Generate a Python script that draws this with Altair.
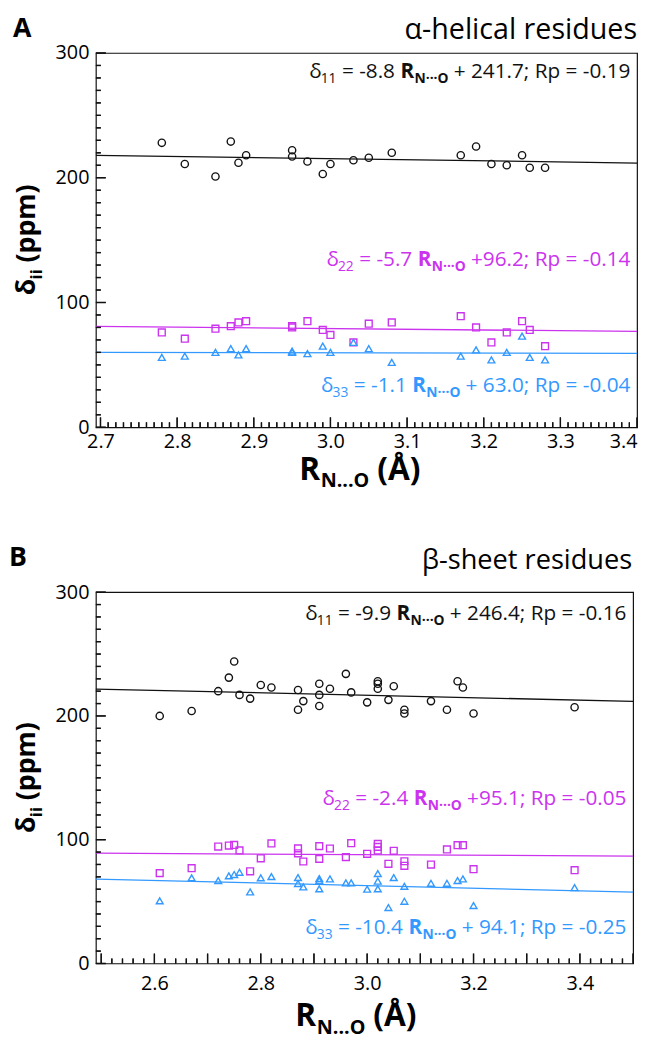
import altair as alt
import pandas as pd

# ---------------- data: panel A (alpha-helical residues) ----------------
a_r = [2.78, 2.81, 2.85, 2.87, 2.88, 2.89, 2.95, 2.95, 2.97, 2.99, 3.00,
       3.03, 3.05, 3.08, 3.17, 3.19, 3.21, 3.23, 3.25, 3.26, 3.28]
a_d11 = [228, 211, 201, 229, 212, 218, 222, 217, 213, 203, 211,
         214, 216, 220, 218, 225, 211, 210, 218, 208, 208]
a_d22 = [76, 71, 79, 81, 84, 85, 81, 80, 85, 78, 74,
         68, 83, 84, 89, 80, 68, 76, 85, 78, 65]
a_d33 = [56, 57, 60, 63, 58, 63, 61, 60, 59, 65, 60,
         68, 63, 52, 57, 62, 54, 60, 73, 56, 54]
a_slope = [-8.8, -5.7, -1.1]
a_icpt = [241.7, 96.2, 63.0]
a_coef = ["= -8.8", "= -5.7", "= -1.1"]
a_tail = ["+ 241.7; Rp = -0.19", "+96.2; Rp = -0.14", "+ 63.0; Rp = -0.04"]

# ---------------- data: panel B (beta-sheet residues) ----------------
b_r11 = [2.61, 2.67, 2.72, 2.74, 2.75, 2.76, 2.78, 2.80, 2.82, 2.87, 2.87,
         2.88, 2.91, 2.91, 2.91, 2.93, 2.96, 2.97, 3.00, 3.02, 3.02, 3.02,
         3.04, 3.05, 3.07, 3.07, 3.12, 3.15, 3.17, 3.18, 3.20, 3.39]
b_d11 = [200, 204, 220, 231, 244, 217, 214, 225, 223, 221, 205,
         212, 226, 217, 208, 222, 234, 219, 211, 228, 226, 222,
         213, 224, 205, 202, 212, 205, 228, 223, 202, 207]
b_r22 = [2.61, 2.67, 2.72, 2.74, 2.75, 2.76, 2.78, 2.80, 2.82, 2.87, 2.87,
         2.88, 2.91, 2.91, 2.93, 2.96, 2.97, 3.00, 3.02, 3.02, 3.02, 3.04,
         3.05, 3.07, 3.07, 3.12, 3.15, 3.17, 3.18, 3.20, 3.39]
b_d22 = [73, 77, 94.5, 95.3, 95.8, 91.3, 74.5, 85, 97, 93, 89,
         82.4, 94.8, 84.5, 92.9, 86, 97.2, 88.6, 96.6, 94.2, 91.3, 80.5,
         91, 82.6, 78.9, 79.9, 92.1, 95.6, 95.6, 76.2, 75.4]
b_r33 = [2.61, 2.67, 2.72, 2.74, 2.75, 2.76, 2.78, 2.80, 2.82, 2.87, 2.87,
         2.88, 2.91, 2.91, 2.91, 2.93, 2.96, 2.97, 3.00, 3.02, 3.02, 3.02,
         3.04, 3.05, 3.07, 3.07, 3.12, 3.15, 3.17, 3.18, 3.20, 3.39]
b_d33 = [50.6, 69.2, 67.0, 70.8, 71.9, 73.7, 57.8, 69.2, 70.2, 69.4, 64.6,
         61.9, 68.6, 67.0, 60.3, 68.3, 65.1, 65.1, 60.0, 72.7, 66.5, 60.3,
         45.2, 69.4, 62.4, 50.3, 64.8, 64.8, 67.0, 68.3, 46.8, 61.3]
b_slope = [-9.9, -2.4, -10.4]
b_icpt = [246.4, 95.1, 94.1]
b_coef = ["= -9.9", "= -2.4", "= -10.4"]
b_tail = ["+ 246.4; Rp = -0.16", "+95.1; Rp = -0.05", "+ 94.1; Rp = -0.25"]

subs = ["11", "22", "33"]
y_labels = [0, 100, 200, 300]
a_xlabels = [2.7, 2.8, 2.9, 3.0, 3.1, 3.2, 3.3, 3.4]
b_xlabels = [2.6, 2.8, 3.0, 3.2, 3.4]

# tick positions (inward ticks on bottom and left edges)
y_major = [0, 100, 200, 300]
y_minor = [v for v in range(10, 300, 10) if v % 100 != 0]
a_x_major = [round(2.7 + 0.1 * i, 2) for i in range(8)]
a_x_minor = [round(2.70 + 0.01 * i, 2) for i in range(71) if i % 10 != 0]
b_x_major = [round(2.5 + 0.1 * i, 2) for i in range(11)]
b_x_minor = [round(2.50 + 0.02 * i, 2) for i in range(51) if i % 5 != 0]

# ---------------- styles ----------------
FONT = "Open Sans"
COLORS = ["#111111", "#cc33ee", "#3399ff"]
SHAPES = ["circle", "square", "triangle-up"]
SIZES = [54, 48, 48]
FRAME = "#111111"

REG = {' ': 0.26, '.': 0.266, ';': 0.266, '-': 0.322, '+': 0.572, '=': 0.572,
       'R': 0.632, 'p': 0.613, 'δ': 0.557, 'N': 0.742, 'O': 0.778, '·': 0.266}
BOLD = {' ': 0.26, '.': 0.286, '-': 0.322, 'R': 0.677, 'N': 0.778, 'O': 0.813,
        '·': 0.286, 'δ': 0.596, 'i': 0.299, 'p': 0.635, 'm': 0.962,
        '(': 0.339, ')': 0.339, 'Å': 0.734}


def tw(s, size, bold=False):
    t = BOLD if bold else REG
    return sum(t.get(c, 0.572) for c in s) * size


def eq_rows(sub, coef, tail, xr, yb, color):
    S, s, sh = 21, 14, 5
    sp = REG[' '] * S
    parts = [("δ", S, False, 0, 0), (sub, s, False, sh, 0),
             (coef, S, False, 0, sp), ("R", S, True, 0, sp),
             ("N···O", s, True, sh, 0), (tail, S, False, 0, sp)]
    total = sum(g + tw(t, z, b) for t, z, b, d, g in parts)
    x = xr - total
    rows = []
    for t, z, b, d, g in parts:
        x += g
        rows.append(dict(x=x, y=yb + d, text=t, size=z, bold=b, color=color))
        x += tw(t, z, b)
    return rows


def xtitle_rows(cx, yb):
    S, s, sh = 32, 20, 8
    parts = [("R", S, 0, 0), ("N...O", s, sh, 0), ("(Å)", S, 0, BOLD[' '] * S)]
    total = sum(g + tw(t, z, True) for t, z, d, g in parts)
    x = cx - total / 2
    rows = []
    for t, z, d, g in parts:
        x += g
        rows.append(dict(x=x, y=yb + d, text=t, size=z, color="#000000"))
        x += tw(t, z, True)
    return rows


def ytitle_rows(cy, xb):
    S, s, sh = 27, 17, 7
    parts = [("δ", S, 0, 0), ("ii", s, sh, 0), ("(ppm)", S, 0, BOLD[' '] * S)]
    total = sum(g + tw(t, z, True) for t, z, d, g in parts)
    y = cy + total / 2
    rows = []
    for t, z, d, g in parts:
        y -= g
        rows.append(dict(x=xb + d, y=y, text=t, size=z, color="#000000"))
        y -= tw(t, z, True)
    return rows


def panel(rs, ds, slopes, icpts, coefs, tails, xdom, xlabels, xmaj, xmin,
          W, H, letter, letter_x, letter_base, title, title_size, title_x, title_base,
          eq_base, xt_cx, xt_base, yt_x, flush, lab_pad):
    scx = alt.Scale(domain=xdom, nice=False, zero=False)
    scy = alt.Scale(domain=[0, 300], nice=False, zero=False)
    ux = (xdom[1] - xdom[0]) / W      # data units per pixel (x)
    uy = 300.0 / H                    # data units per pixel (y)

    # one axis definition per channel, shared by every layer (so they merge cleanly)
    xkw = dict(values=xlabels, format=".1f", ticks=False, domain=False,
               grid=False, labelPadding=lab_pad, title=None)
    if flush:
        xkw.update(labelFlush=1, labelFlushOffset=0)
    XAX = alt.Axis(**xkw)
    YAX = alt.Axis(values=y_labels, ticks=False, domain=False, grid=False,
                   labelPadding=7, title=None)

    def X(field):
        return alt.X(field, scale=scx, axis=XAX)

    def Y(field):
        return alt.Y(field, scale=scy, axis=YAX)

    def to_data(rows):
        # annotation offsets given in pixels from the plot's top-left corner
        out = []
        for r in rows:
            r = dict(r)
            r["x"] = xdom[0] + r["x"] * ux
            r["y"] = 300.0 - r["y"] * uy
            out.append(r)
        return out

    def text_layer(rows, bold, angle=0, align="left"):
        df = pd.DataFrame(to_data(rows))
        return alt.Chart(df).mark_text(
            align=align, baseline="alphabetic", font=FONT,
            fontWeight="bold" if bold else "normal", angle=angle
        ).encode(
            x=X("x:Q"), y=Y("y:Q"),
            text="text:N",
            size=alt.Size("size:Q", scale=None, legend=None),
            color=alt.Color("color:N", scale=None, legend=None),
        )

    layers = []
    # fitted lines
    for k in range(3):
        ld = pd.DataFrame({"r": list(xdom),
                           "d": [slopes[k] * v + icpts[k] for v in xdom]})
        layers.append(alt.Chart(ld).mark_line(color=COLORS[k], strokeWidth=1.3).encode(
            x=X("r:Q"), y=Y("d:Q")))
    # points
    for k in range(3):
        pdf = pd.DataFrame({"r": rs[k], "d": ds[k]})
        layers.append(alt.Chart(pdf).mark_point(
            shape=SHAPES[k], filled=False, color=COLORS[k], size=SIZES[k],
            strokeWidth=1.4, opacity=1).encode(x=X("r:Q"), y=Y("d:Q")))
    # inward ticks: short rule segments plus the same ticks as line-shaped symbols
    for vals, L in ((xmaj, 10), (xmin, 5)):
        tdf = pd.DataFrame({"r": vals, "d": [0.0] * len(vals),
                            "d2": [L * uy] * len(vals)})
        layers.append(alt.Chart(tdf).mark_rule(color=FRAME, strokeWidth=1.3).encode(
            x=X("r:Q"), y=Y("d:Q"), y2="d2:Q"))
        layers.append(alt.Chart(tdf).mark_point(
            shape="M0,0L0,-2", size=L * L, filled=False, color=FRAME,
            strokeWidth=1.3, opacity=1).encode(x=X("r:Q"), y=Y("d:Q")))
    for vals, L in ((y_major, 10), (y_minor, 5)):
        tdf = pd.DataFrame({"d": vals, "r": [xdom[0]] * len(vals),
                            "r2": [xdom[0] + L * ux] * len(vals)})
        layers.append(alt.Chart(tdf).mark_rule(color=FRAME, strokeWidth=1.3).encode(
            y=Y("d:Q"), x=X("r:Q"), x2="r2:Q"))
        layers.append(alt.Chart(tdf).mark_point(
            shape="M0,0L2,0", size=L * L, filled=False, color=FRAME,
            strokeWidth=1.3, opacity=1).encode(x=X("r:Q"), y=Y("d:Q")))
    # annotations
    normal_rows, bold_rows = [], []
    for k in range(3):
        for row in eq_rows(subs[k], coefs[k], tails[k], W - 6, eq_base[k], COLORS[k]):
            (bold_rows if row.pop("bold") else normal_rows).append(row)
    bold_rows += xtitle_rows(xt_cx, H + xt_base)
    bold_rows.append(dict(x=letter_x, y=letter_base, text=letter, size=27, color="#000000"))
    layers.append(text_layer(normal_rows, False))
    layers.append(text_layer(bold_rows, True))
    layers.append(text_layer(ytitle_rows(H / 2, yt_x), True, angle=270))
    layers.append(text_layer([dict(x=title_x, y=title_base, text=title, size=title_size,
                                   color="#000000")], False, align="right"))
    return alt.layer(*layers).properties(width=W, height=H)


pA = panel([a_r, a_r, a_r], [a_d11, a_d22, a_d33], a_slope, a_icpt, a_coef, a_tail,
           [2.694, 3.4], a_xlabels, a_x_major, a_x_minor, 548, 379,
           "A", -84, -16, "α-helical residues", 29, 548, -14.5, [25, 216, 343],
           268, 53, -62, True, 5)
pB = panel([b_r11, b_r22, b_r33], [b_d11, b_d22, b_d33], b_slope, b_icpt, b_coef, b_tail,
           [2.49, 3.5], b_xlabels, b_x_major, b_x_minor, 544, 376,
           "B", -88, -26, "β-sheet residues", 27.5, 543, -23, [28, 216, 346],
           264, 63, -62, False, 10)

chart = alt.vconcat(pA, pB, spacing=52).properties(
    padding={"left": 0, "top": 0, "right": 0, "bottom": 0}
).configure(font=FONT).configure_view(
    stroke=FRAME, strokeWidth=1.2
).configure_axis(
    labelFont=FONT, labelFontSize=20, labelColor="#000000"
)

chart.save("out.html", embed_options={"renderer": "svg", "actions": False})
